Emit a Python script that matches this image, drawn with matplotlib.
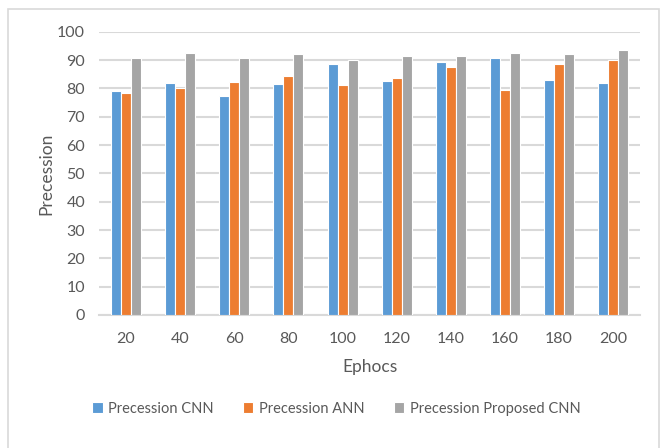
import matplotlib
matplotlib.use("Agg")
import matplotlib.pyplot as plt
from matplotlib.patches import Rectangle
import numpy as np

plt.rcParams["font.family"] = ["Liberation Sans Narrow", "Lato", "DejaVu Sans"]

# --- DATA ---
epochs = ["20", "40", "60", "80", "100", "120", "140", "160", "180", "200"]
cnn = [79.1, 81.9, 77.4, 81.5, 88.6, 82.6, 89.2, 90.9, 82.9, 82.0]
ann = [78.5, 80.1, 82.2, 84.4, 81.2, 83.6, 87.5, 79.5, 88.6, 90.0]
proposed = [90.9, 92.4, 90.6, 92.0, 89.9, 91.6, 91.6, 92.4, 92.0, 93.4]

series = [("Precession CNN", cnn, "#5B9BD5"),
          ("Precession ANN", ann, "#ED7D31"),
          ("Precession Proposed CNN", proposed, "#A5A5A5")]

text_col = "#595959"
grid_col = "#D9D9D9"

fig = plt.figure(figsize=(6.6, 4.48), dpi=100)
ax = fig.add_axes([0.15, 0.297, 0.82, 0.632])

x = np.arange(len(epochs))
w = 0.185
for i, (name, vals, col) in enumerate(series):
    ax.bar(x + (i - 1) * w, vals, width=w, color=col, edgecolor="white",
           linewidth=0.8, label=name, zorder=3)

ax.set_xlim(-0.5, len(epochs) - 0.5)
ax.set_ylim(0, 100)
ax.set_yticks(range(0, 101, 10))
ax.set_xticks(x)
ax.set_xticklabels(epochs)
ax.grid(axis="y", color=grid_col, linewidth=1.5, zorder=0)
for s in ["top", "right", "left"]:
    ax.spines[s].set_visible(False)
ax.spines["bottom"].set_color(grid_col)
ax.spines["bottom"].set_linewidth(1.5)
ax.tick_params(length=0, labelsize=11.5, colors=text_col, pad=10)
ax.tick_params(axis="x", pad=12)

ax.set_xlabel("Ephocs", fontsize=12.5, color=text_col, labelpad=10)
ax.set_ylabel("Precession", fontsize=12.5, color=text_col, labelpad=2)

fig.legend(loc="center", bbox_to_anchor=(0.51, 0.088), ncol=3, frameon=False,
           fontsize=10.5, handlelength=0.7, handleheight=0.7, handletextpad=0.4,
           columnspacing=2.0, labelcolor=text_col)

# chart frame
fig.patches.append(Rectangle((8 / 660, -0.05), 651 / 660, (448 - 9) / 448 + 0.05,
                             transform=fig.transFigure, fill=False,
                             edgecolor=grid_col, linewidth=1.2))

fig.savefig("out.png", dpi=100)
